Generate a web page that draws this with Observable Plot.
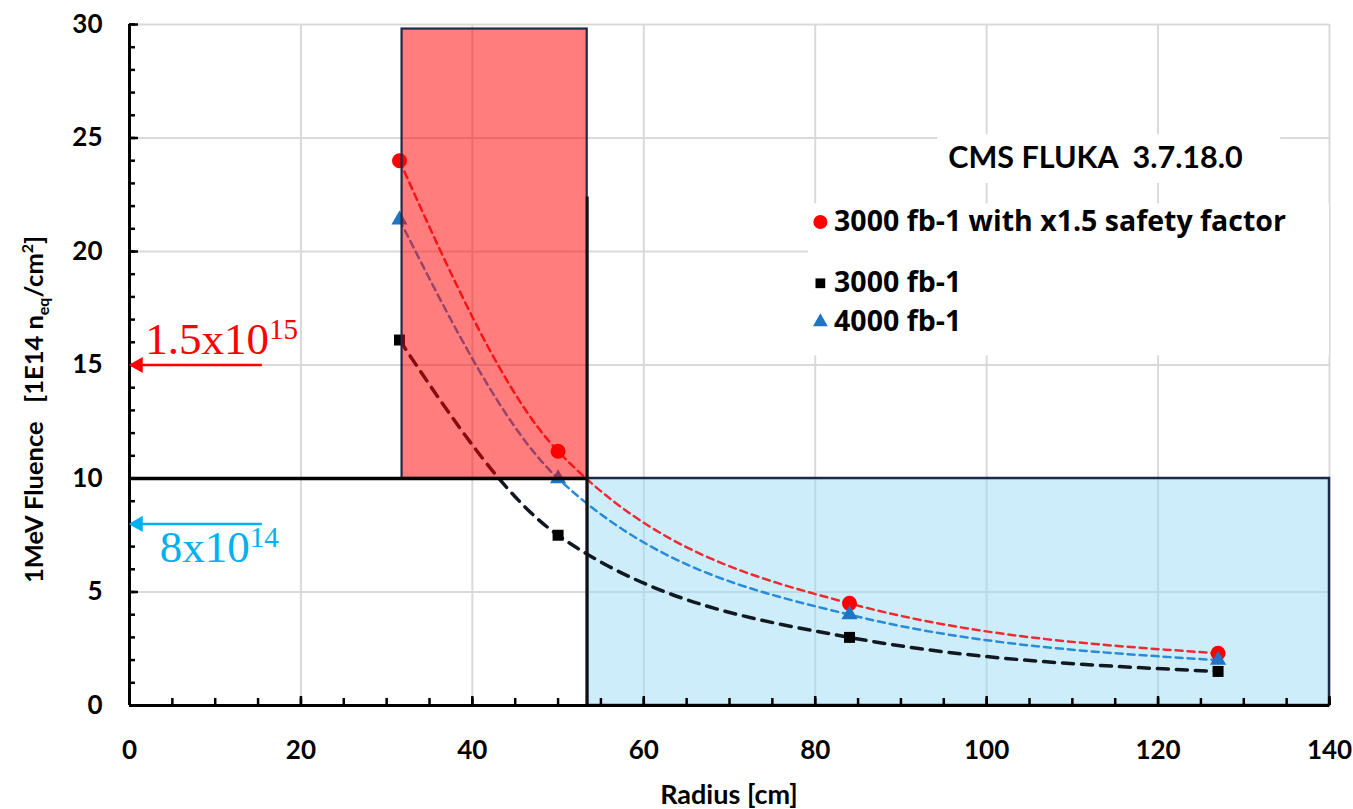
<!DOCTYPE html>
<html><head><meta charset="utf-8">
<script src="https://cdn.jsdelivr.net/npm/d3@7"></script>
<script src="https://cdn.jsdelivr.net/npm/@observablehq/plot@0.6"></script>
<style>
html,body{margin:0;padding:0;background:#fff;overflow:hidden}
</style></head><body><div id="chart"></div>
<script>
// ---- data ----
const radius = [31.5, 50, 84, 127];
const safety3000 = [24.0, 11.2, 4.5, 2.3];
const lumi3000 = [16.1, 7.5, 3.0, 1.5];
const lumi4000 = [21.4, 10.0, 4.0, 2.0];
const seriesNames = ["3000 fb-1 with x1.5 safety factor", "3000 fb-1", "4000 fb-1"];
const xTicks = [0, 20, 40, 60, 80, 100, 120, 140];
const yTicks = [0, 5, 10, 15, 20, 25, 30];
const innerZone = [31.8, 53.4, 10, 29.8];   // radius from/to, fluence from/to
const outerZone = [53.4, 140, 0, 10];
const limitValues = [15, 8];
const limitBase = ["1.5x10", "8x10"];
const limitExp = ["15", "14"];
const titleText = "CMS FLUKA  3.7.18.0";

// ---- build tables ----
const styles = [
  {color: "#ff0000", line: "#ee2a30", width: 2.5, dash: "7,5", symbol: "circle", r: 7.5, lr: 7},
  {color: "#000000", line: "#111820", width: 3.5, dash: "11,8", symbol: "square", r: 6.2, lr: 5.5},
  {color: "#1f74c4", line: "#2a8ad8", width: 2.5, dash: "7,5", symbol: "triangle", r: 6, lr: 5.5}
];
const seriesValues = [safety3000, lumi3000, lumi4000];
const series = seriesNames.map((name, k) => ({name, ...styles[k],
  points: radius.map((x, i) => ({x, y: seriesValues[k][i]}))}));
const zone = a => ({x1: a[0], x2: a[1], y1: a[2], y2: a[3]});

// layout of in-chart annotations (data units)
const legendX = 80.6, legendRows = [21.3, 18.6, 16.9];
const titleBox = {x1: 94.3, x2: 134.3, y1: 23.0, y2: 25.15};
const legendBox = {x1: 79.2, x2: 140, y1: 15.4, y2: 22.1};

const font = "Lato, 'Open Sans', sans-serif";
const legendFont = "'Open Sans', Lato, sans-serif";
const navy = "#1c2a48";

const marks = [
  Plot.gridX(xTicks.filter(v => v > 0), {stroke: "#d9d9d9", strokeOpacity: 1, strokeWidth: 2}),
  Plot.gridY(yTicks.filter(v => v > 0), {stroke: "#d9d9d9", strokeOpacity: 1, strokeWidth: 2}),
  Plot.rect([zone(outerZone)], {x1: "x1", x2: "x2", y1: "y1", y2: "y2", fill: "#99dbf3", fillOpacity: 0.5}),
  Plot.rect([titleBox, legendBox], {x1: "x1", x2: "x2", y1: "y1", y2: "y2", fill: "white"}),
];
for (const s of series) {
  marks.push(Plot.line(s.points, {x: "x", y: "y", curve: "monotone-x", stroke: s.line,
    strokeWidth: s.width, strokeDasharray: s.dash}));
}
for (const s of series) {
  marks.push(Plot.dot(s.points, {x: "x", y: "y", symbol: s.symbol, fill: s.color, r: s.r, stroke: "none"}));
}
marks.push(
  Plot.rect([zone(innerZone)], {x1: "x1", x2: "x2", y1: "y1", y2: "y2", fill: "#ff0000", fillOpacity: 0.51, stroke: navy, strokeWidth: 2.2}),
  Plot.rect([zone(outerZone)], {x1: "x1", x2: "x2", y1: "y1", y2: "y2", fill: "none", stroke: navy, strokeWidth: 2.5}),
  Plot.ruleY([innerZone[2]], {x1: 0, x2: innerZone[1], stroke: "#000", strokeWidth: 3.5}),
  Plot.ruleX([innerZone[1]], {y1: 0, y2: 22.4, stroke: "#111", strokeWidth: 3}),
  Plot.ruleX([0], {stroke: "#000", strokeWidth: 3}),
  Plot.ruleY([0], {stroke: "#000", strokeWidth: 3}),
  // axes
  Plot.axisX(xTicks, {tickSize: 0, tickPadding: 35, fontSize: 26, fontWeight: 700, label: null}),
  Plot.axisX(d3.range(0, 141, 5), {tickSize: -7, fill: "none", stroke: "#000", strokeWidth: 2.5, label: null}),
  Plot.axisX(xTicks, {tickSize: -9, fill: "none", stroke: "#000", strokeWidth: 2.5, label: null}),
  Plot.axisY(yTicks, {tickSize: 0, tickPadding: 27, fontSize: 26, fontWeight: 700, label: null}),
  Plot.axisY(d3.range(0, 31, 1), {tickSize: -6, fill: "none", stroke: "#000", strokeWidth: 2.5, label: null}),
  Plot.axisY(yTicks, {tickSize: -9, fill: "none", stroke: "#000", strokeWidth: 2.5, label: null}),
  // limit arrows
  Plot.ruleY([limitValues[0]], {x1: 0.8, x2: 15.5, stroke: "#ff0000", strokeWidth: 2.5}),
  Plot.ruleY([limitValues[1]], {x1: 0.8, x2: 15.5, stroke: "#00b0f0", strokeWidth: 2.5}),
  Plot.dot([limitValues[0]], {x: 1.0, y: d => d, symbol: "triangle", rotate: -90, r: 6, fill: "#ff0000", stroke: "none"}),
  Plot.dot([limitValues[1]], {x: 1.0, y: d => d, symbol: "triangle", rotate: -90, r: 6, fill: "#00b0f0", stroke: "none"}),
  // legend
  ...series.map((s, i) => Plot.dot([s], {x: () => legendX, y: () => legendRows[i], symbol: s.symbol, fill: s.color, r: s.lr, stroke: "none"})),
  Plot.text(series, {x: () => legendX + 1.6, y: (d, i) => legendRows[i], text: "name", textAnchor: "start",
    fontSize: 28.5, fontWeight: 700, fill: "#000", fontFamily: legendFont}),
  Plot.text([titleText], {x: () => 112.7, y: () => 24.1, fontSize: 30.5, fontWeight: 700, fill: "#000"})
);

const plot = Plot.plot({
  width: 1353, height: 809,
  marginLeft: 129, marginRight: 24, marginTop: 24, marginBottom: 104,
  x: {domain: [0, 140], label: null},
  y: {domain: [0, 30], label: null},
  style: {fontFamily: font, color: "#000", background: "#fff", overflow: "visible"},
  marks
});
document.getElementById("chart").appendChild(plot);

// ---- rich text labels ----
const svg = d3.select(plot);
const X = v => plot.scale("x").apply(v), Y = v => plot.scale("y").apply(v);
const limitColors = ["#ff0000", "#00b0f0"];
const limitLabelPos = [[1.9, 15.45], [3.6, 6.3]];
limitBase.forEach((b, i) => {
  const t = svg.append("text")
    .attr("x", X(limitLabelPos[i][0])).attr("y", Y(limitLabelPos[i][1]))
    .attr("text-anchor", "start")
    .attr("fill", limitColors[i])
    .style("font-family", "'Liberation Serif', 'Times New Roman', serif")
    .style("font-size", "45px");
  t.append("tspan").text(b);
  t.append("tspan").attr("dy", -15).style("font-size", "29px").text(limitExp[i]);
});

const yl = svg.append("text")
  .attr("transform", `translate(${plot.scale("x").range[0] - 86},${Y(15) + 45}) rotate(-90)`)
  .attr("text-anchor", "middle")
  .style("font-family", font).style("font-weight", 700).style("font-size", "25.5px").attr("fill", "#000");
yl.append("tspan").text("1MeV Fluence\u00a0\u00a0\u00a0[1E14 n");
yl.append("tspan").attr("dy", 6).style("font-size", "16px").text("eq");
yl.append("tspan").attr("dy", -6).text("/cm");
yl.append("tspan").attr("dy", -10).style("font-size", "16px").text("2");
yl.append("tspan").attr("dy", 10).text("]");

svg.append("text")
  .attr("x", X(70)).attr("y", Y(0) + 99)
  .attr("text-anchor", "middle")
  .style("font-family", font).style("font-weight", 700).style("font-size", "27px").attr("fill", "#000")
  .text("Radius [cm]");
</script></body></html>
